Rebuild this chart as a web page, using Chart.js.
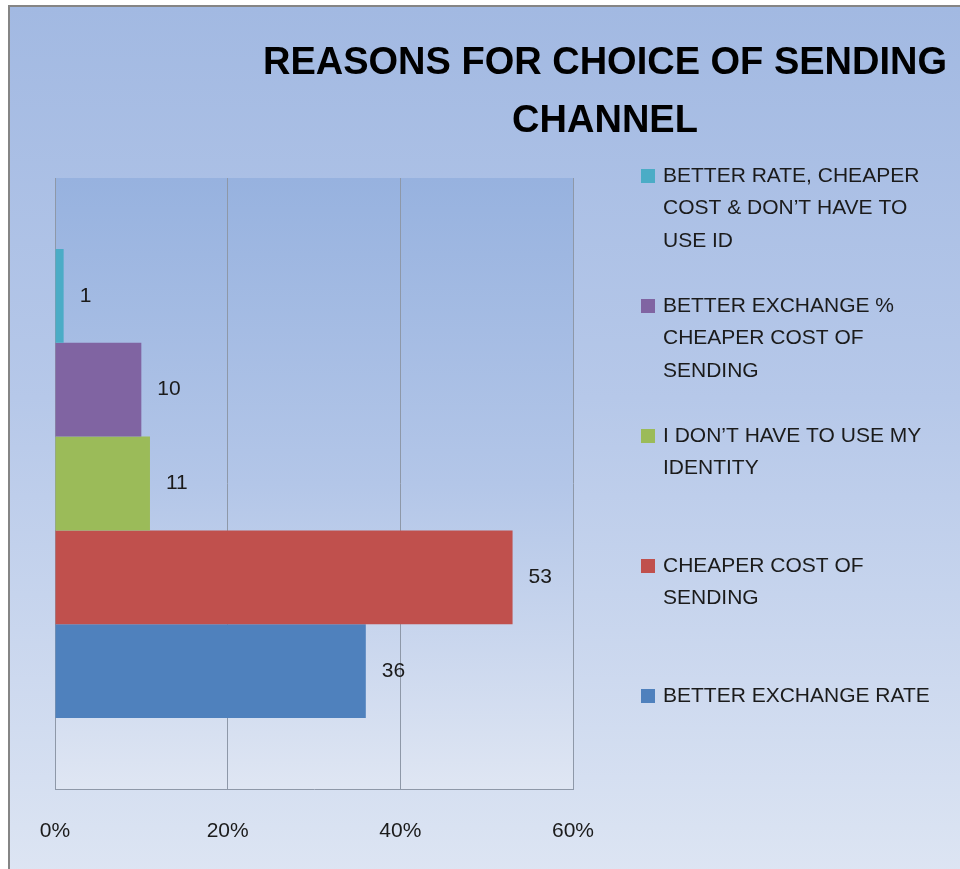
<!DOCTYPE html>
<html>
<head>
<meta charset="utf-8">
<script src="https://cdn.jsdelivr.net/npm/chart.js@4.4.1/dist/chart.umd.min.js"></script>
<style>
  html, body { margin: 0; padding: 0; background: #ffffff; }
  #frame {
    position: absolute; left: 8px; top: 5px; width: 960px; height: 869px;
    border-left: 2px solid #858585; border-top: 2px solid #858585;
    background: linear-gradient(to bottom, #a2b9e2 0%, #b6c8e9 45%, #dde5f3 100%);
  }
  #wrap { position: absolute; left: 0; top: 0; width: 960px; height: 869px; }
</style>
</head>
<body>
<div id="frame"></div>
<div id="wrap"><canvas id="myChart" width="960" height="869"></canvas></div>
<script>
// Dados do gráfico (de cima para baixo, como na legenda)
const categorias = [''];
const rotulos = [
    ['BETTER RATE, CHEAPER', 'COST & DON\u2019T HAVE TO', 'USE ID'],
    ['BETTER EXCHANGE %', 'CHEAPER COST OF', 'SENDING'],
    ['I DON\u2019T HAVE TO USE MY', 'IDENTITY'],
    ['CHEAPER COST OF', 'SENDING'],
    ['BETTER EXCHANGE RATE']
];
const valores = [1, 10, 11, 53, 36];
const cores = ['#4bacc6', '#8064a2', '#9bbb59', '#c0504d', '#4f81bd'];
const tituloLinhas = ['REASONS FOR CHOICE OF SENDING', 'CHANNEL'];
const ticksX = [0, 20, 40, 60];

const fonte = '"Liberation Sans", Arial, sans-serif';
const corTexto = '#1b1b1b';
const corGrade = '#8e98a8';

// Fundo da área do gráfico (gradiente)
const fundoPlot = {
    id: 'fundoPlot',
    beforeDraw(chart) {
        const { ctx, chartArea: a } = chart;
        const g = ctx.createLinearGradient(0, a.top, 0, a.bottom);
        g.addColorStop(0, '#97b2df');
        g.addColorStop(0.5, '#b3c6e8');
        g.addColorStop(1, '#dfe6f3');
        ctx.save();
        ctx.fillStyle = g;
        ctx.fillRect(a.left, a.top, a.right - a.left, a.bottom - a.top);
        ctx.restore();
    }
};

// Título desenhado à mão (fora do centro, como no original)
const titulo = {
    id: 'titulo',
    afterDraw(chart) {
        const ctx = chart.ctx;
        ctx.save();
        ctx.fillStyle = '#000000';
        ctx.font = 'bold 38px ' + fonte;
        ctx.textAlign = 'center';
        ctx.textBaseline = 'middle';
        tituloLinhas.forEach((t, i) => ctx.fillText(t, 605, 64 + i * 58));
        ctx.restore();
    }
};

// Rótulos de valor ao lado das barras
const rotulosValor = {
    id: 'rotulosValor',
    afterDatasetsDraw(chart) {
        const ctx = chart.ctx;
        ctx.save();
        ctx.fillStyle = corTexto;
        ctx.font = '21px ' + fonte;
        ctx.textAlign = 'left';
        ctx.textBaseline = 'middle';
        chart.data.datasets.forEach((ds, i) => {
            const el = chart.getDatasetMeta(i).data[0];
            ctx.fillText(String(ds.data[0]), el.x + 16, el.y);
        });
        ctx.restore();
    }
};

// Legenda com textos em várias linhas
const legenda = {
    id: 'legenda',
    afterDraw(chart) {
        const ctx = chart.ctx;
        ctx.save();
        ctx.font = '21px ' + fonte;
        ctx.textAlign = 'left';
        ctx.textBaseline = 'middle';
        chart.data.datasets.forEach((ds, i) => {
            const y0 = 176 + i * 130;
            ctx.fillStyle = ds.backgroundColor;
            ctx.fillRect(641, y0 - 7, 14, 14);
            ctx.fillStyle = corTexto;
            ds.label.forEach((linha, j) => ctx.fillText(linha, 663, y0 + j * 32.5));
        });
        ctx.restore();
    }
};

const ctx = document.getElementById('myChart');

new Chart(ctx, {
    type: 'bar',
    data: {
        labels: categorias,
        datasets: rotulos.map((r, i) => ({
            label: r,
            data: [valores[i]],
            backgroundColor: cores[i],
            borderWidth: 0,
            categoryPercentage: 0.768,
            barPercentage: 1
        }))
    },
    options: {
        indexAxis: 'y',
        responsive: false,
        animation: false,
        layout: {
            padding: { left: 55, right: 387, top: 178, bottom: 0 }
        },
        plugins: {
            legend: { display: false },
            title: { display: false },
            tooltip: { enabled: false }
        },
        scales: {
            x: {
                min: 0,
                max: 60,
                afterBuildTicks: (axis) => { axis.ticks = ticksX.map(v => ({ value: v })); },
                afterFit: (axis) => { axis.height = 80; },
                grid: { color: corGrade, lineWidth: 1, drawTicks: false },
                border: { display: true, color: corGrade, width: 1 },
                ticks: {
                    padding: 30,
                    color: corTexto,
                    font: { family: fonte, size: 21 },
                    callback: (v) => v + '%'
                }
            },
            y: {
                grid: { display: false, drawTicks: false },
                border: { display: true, color: corGrade, width: 1 },
                ticks: { display: false }
            }
        }
    },
    plugins: [fundoPlot, titulo, rotulosValor, legenda]
});
</script>
</body>
</html>
